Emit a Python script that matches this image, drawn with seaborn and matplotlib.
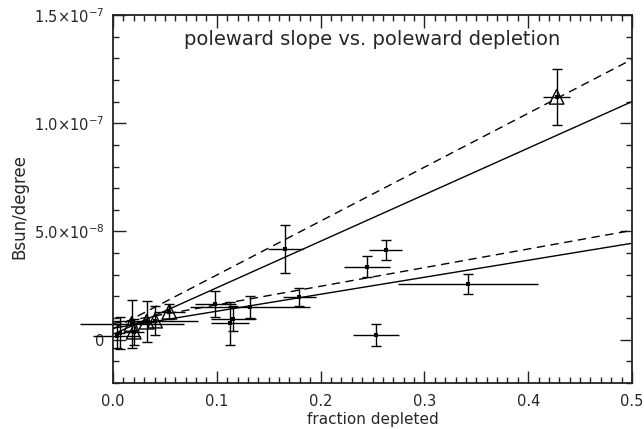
import numpy as np
import pandas as pd
import matplotlib
matplotlib.use("Agg")
import matplotlib.pyplot as plt
import seaborn as sns
from matplotlib.ticker import FixedLocator, MultipleLocator

# ---- data (y values in units of 1e-8) ----
dot_x    = [0.0035, 0.007, 0.0986, 0.1127, 0.116, 0.132, 0.166, 0.1795, 0.245, 0.2534, 0.2627, 0.342]
dot_y    = [0.17, 0.30, 1.66, 0.76, 0.97, 1.51, 4.19, 1.99, 3.37, 0.23, 4.13, 2.57]
dot_xerr = [0.0225, 0.005, 0.020, 0.018, 0.022, 0.058, 0.017, 0.016, 0.022, 0.022, 0.016, 0.0675]
dot_yerr = [0.54, 0.75, 0.60, 1.00, 0.57, 0.50, 1.10, 0.42, 0.49, 0.51, 0.46, 0.47]

tri_x    = [0.018, 0.020, 0.0324, 0.0405, 0.0543, 0.4274]
tri_y    = [0.73, 0.37, 0.83, 0.88, 1.29, 11.22]
tri_xerr = [0.050, 0.010, 0.010, 0.041, 0.015, 0.013]
tri_yerr = [1.10, 0.60, 0.95, 0.67, 0.35, 1.29]

# fitted lines: intercept (1e-8), slope (1e-8 per unit), style
fit_intercept = [0.25, 0.50, 0.53, 0.75]
fit_slope     = [21.5, 24.9, 7.85, 8.6]
fit_style     = ["solid", "dashed", "solid", "dashed"]
fit_xrange    = [0.0, 0.5]

ytick_vals   = [0.0, 5e-8, 1e-7, 1.5e-7]
ytick_labels = ["0", r"5.0$\times$10$^{-8}$", r"1.0$\times$10$^{-7}$", r"1.5$\times$10$^{-7}$"]
xtick_vals   = [0.0, 0.1, 0.2, 0.3, 0.4, 0.5]
xtick_labels = ["0.0", "0.1", "0.2", "0.3", "0.4", "0.5"]

SC = 1e-8
TXT = "#262626"

sns.set_theme(style="ticks")
plt.rcParams['font.family'] = ['DejaVu Sans']

fig = plt.figure(figsize=(6.44, 4.29), dpi=100)
ax = fig.add_axes([113/644, 1-383/429, (632-113)/644, (383-15)/429])

# fit lines
rows = []
for i, (a, b, s) in enumerate(zip(fit_intercept, fit_slope, fit_style)):
    for xv in fit_xrange:
        rows.append({"x": xv, "y": (a + b*xv)*SC, "fit": f"f{i}", "style": s})
lines_df = pd.DataFrame(rows)
for key, g in lines_df.groupby("fit"):
    ls = "-" if g["style"].iloc[0] == "solid" else (0, (6, 4))
    sns.lineplot(data=g, x="x", y="y", ax=ax, color="black", lw=1.0,
                 linestyle=ls, legend=False)

dot_df = pd.DataFrame({"x": dot_x, "y": np.array(dot_y)*SC})
tri_df = pd.DataFrame({"x": tri_x, "y": np.array(tri_y)*SC})

# error bars (vertical with caps, horizontal without)
for xs, ys, xe, ye in [(dot_x, dot_y, dot_xerr, dot_yerr), (tri_x, tri_y, tri_xerr, tri_yerr)]:
    ysc = np.array(ys)*SC
    ax.errorbar(xs, ysc, yerr=np.array(ye)*SC, fmt="none", ecolor="black",
                elinewidth=1.0, capsize=3.5, capthick=1.0, clip_on=False)
    ax.errorbar(xs, ysc, xerr=xe, fmt="none", ecolor="black",
                elinewidth=1.0, capsize=0, clip_on=False)

sns.scatterplot(data=dot_df, x="x", y="y", ax=ax, marker="s", s=7,
                color="black", edgecolor="black", linewidth=0, legend=False)
sns.scatterplot(data=tri_df, x="x", y="y", ax=ax, marker="s", s=7,
                color="black", edgecolor="black", linewidth=0, legend=False)
sns.scatterplot(data=tri_df, x="x", y="y", ax=ax, marker="^", s=110,
                facecolor="none", edgecolor="black", linewidth=1.0, legend=False)

ax.set_xlim(0, 0.5)
ax.set_ylim(-2e-8, 1.5e-7)
ax.xaxis.set_major_locator(FixedLocator(xtick_vals))
ax.set_xticklabels(xtick_labels)
ax.xaxis.set_minor_locator(MultipleLocator(0.01))
ax.yaxis.set_major_locator(FixedLocator(ytick_vals))
ax.set_yticklabels(ytick_labels)
ax.yaxis.set_minor_locator(MultipleLocator(1e-8))

ax.tick_params(which="both", direction="in", top=True, right=True, color="#222222",
               labelsize=10.5, labelcolor=TXT)
ax.tick_params(axis="x", pad=8)
ax.tick_params(axis="y", pad=6)
ax.tick_params(which="major", length=9, width=1.0)
ax.tick_params(which="minor", length=4.5, width=1.0)
for sp in ax.spines.values():
    sp.set_linewidth(1.3)
    sp.set_color("#222222")

ax.set_xlabel("fraction depleted", fontsize=11, color=TXT)
ax.xaxis.set_label_coords(0.5, -0.08)
ax.set_ylabel("Bsun/degree", fontsize=12, color=TXT)
ax.yaxis.set_label_coords(-0.163, 0.48)
ax.text(0.5, 0.933, "poleward slope vs. poleward depletion", transform=ax.transAxes,
        ha="center", va="center", fontsize=14, color=TXT)

fig.savefig("out.png", dpi=100)
